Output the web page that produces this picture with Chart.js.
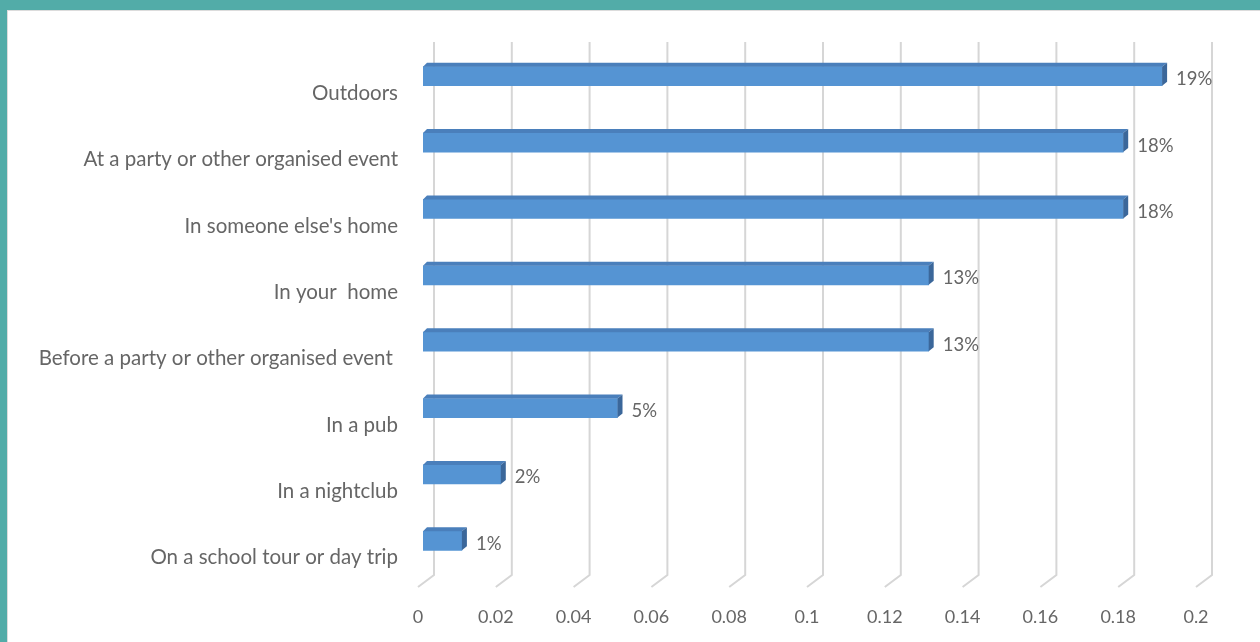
<!DOCTYPE html>
<html>
<head>
<meta charset="utf-8">
<script src="https://cdn.jsdelivr.net/npm/chart.js@4"></script>
<style>
  html, body { margin: 0; padding: 0; background: #fff; }
  .frame {
    width: 1253px; height: 632px;
    border-top: 10px solid #52aca8;
    border-left: 7px solid #52aca8;
    position: relative;
  }
  .inner {
    position: absolute; left: 0; top: 0;
    width: 1252px; height: 631px;
    border-top: 1px solid #dcdcdc;
    border-left: 1px solid #dcdcdc;
  }
  canvas { display: block; }
</style>
</head>
<body>
<div class="frame">
  <div class="inner">
    <canvas id="chart" width="1252" height="631"></canvas>
  </div>
</div>
<script>
const places = [
  'Outdoors',
  'At a party or other organised event',
  "In someone else's home",
  'In your  home',
  'Before a party or other organised event ',
  'In a pub',
  'In a nightclub',
  'On a school tour or day trip'
];
const shares = [0.19, 0.18, 0.18, 0.13, 0.13, 0.05, 0.02, 0.01];
const axisTicks = [0, 0.02, 0.04, 0.06, 0.08, 0.1, 0.12, 0.14, 0.16, 0.18, 0.2];

const FONT = 'Lato, "Open Sans", sans-serif';
const TEXT = '#666666';
// depth of the fake 3D look
const DX = 5, DY = 4;

// floor + back wall grid lines: vertical at the back, slanting out to the front
const wallGrid = {
  id: 'wallGrid',
  beforeDatasetsDraw(chart) {
    const { ctx, chartArea, scales: { x } } = chart;
    ctx.save();
    ctx.strokeStyle = '#d6d6d6';
    ctx.lineWidth = 2;
    axisTicks.forEach(v => {
      const px = x.getPixelForValue(v);
      ctx.beginPath();
      ctx.moveTo(px + 11, chartArea.top - 1);
      ctx.lineTo(px + 11, chartArea.bottom + 1);
      ctx.lineTo(px - 5, chartArea.bottom + 13);
      ctx.stroke();
    });
    ctx.restore();
  }
};

// top and side faces of each bar, plus the percent labels
const barFaces = {
  id: 'barFaces',
  afterDatasetsDraw(chart) {
    const { ctx } = chart;
    const meta = chart.getDatasetMeta(0);
    ctx.save();
    meta.data.forEach((bar, i) => {
      const top = bar.y - bar.height / 2;
      const bottom = bar.y + bar.height / 2;
      const left = bar.base;
      const right = bar.x;

      // top face
      ctx.fillStyle = '#4a7fbb';
      ctx.beginPath();
      ctx.moveTo(left, top);
      ctx.lineTo(left + DX - 1, top - DY);
      ctx.lineTo(right + DX, top - DY);
      ctx.lineTo(right, top);
      ctx.closePath();
      ctx.fill();

      // right side face
      ctx.fillStyle = '#3b679a';
      ctx.beginPath();
      ctx.moveTo(right, top);
      ctx.lineTo(right + DX, top - DY);
      ctx.lineTo(right + DX, bottom - DY);
      ctx.lineTo(right, bottom);
      ctx.closePath();
      ctx.fill();

      // value label
      ctx.fillStyle = TEXT;
      ctx.font = '18.5px ' + FONT;
      ctx.textAlign = 'left';
      ctx.textBaseline = 'middle';
      ctx.fillText(Math.round(shares[i] * 100) + '%', right + DX + 9, bar.y + 3);
    });
    ctx.restore();
  }
};

new Chart(document.getElementById('chart'), {
  type: 'bar',
  data: {
    labels: places,
    datasets: [{
      data: shares,
      backgroundColor: '#5594d3',
      borderWidth: 0,
      barThickness: 19
    }]
  },
  options: {
    indexAxis: 'y',
    responsive: false,
    animation: false,
    layout: { padding: { top: 32, right: 59, left: 0, bottom: 0 } },
    plugins: {
      legend: { display: false },
      tooltip: { enabled: false }
    },
    scales: {
      x: {
        min: 0,
        max: 0.2,
        afterBuildTicks(scale) {
          scale.ticks = axisTicks.map(v => ({ value: v }));
        },
        afterFit(scale) {
          scale.height = 68;
          scale.paddingLeft = 0;
          scale.paddingRight = 0;
        },
        grid: { display: false, drawTicks: false },
        border: { display: false },
        ticks: {
          padding: 32,
          labelOffset: -5,
          color: TEXT,
          font: { family: FONT, size: 18 },
          callback: v => String(Math.round(v * 100) / 100)
        }
      },
      y: {
        afterFit(scale) {
          scale.width = 415;
          scale.paddingTop = 0;
          scale.paddingBottom = 0;
        },
        grid: { display: false, drawTicks: false },
        border: { display: false },
        ticks: {
          padding: 25,
          labelOffset: 17,
          color: TEXT,
          font: { family: FONT, size: 20.5 }
        }
      }
    }
  },
  plugins: [wallGrid, barFaces]
});
</script>
</body>
</html>
